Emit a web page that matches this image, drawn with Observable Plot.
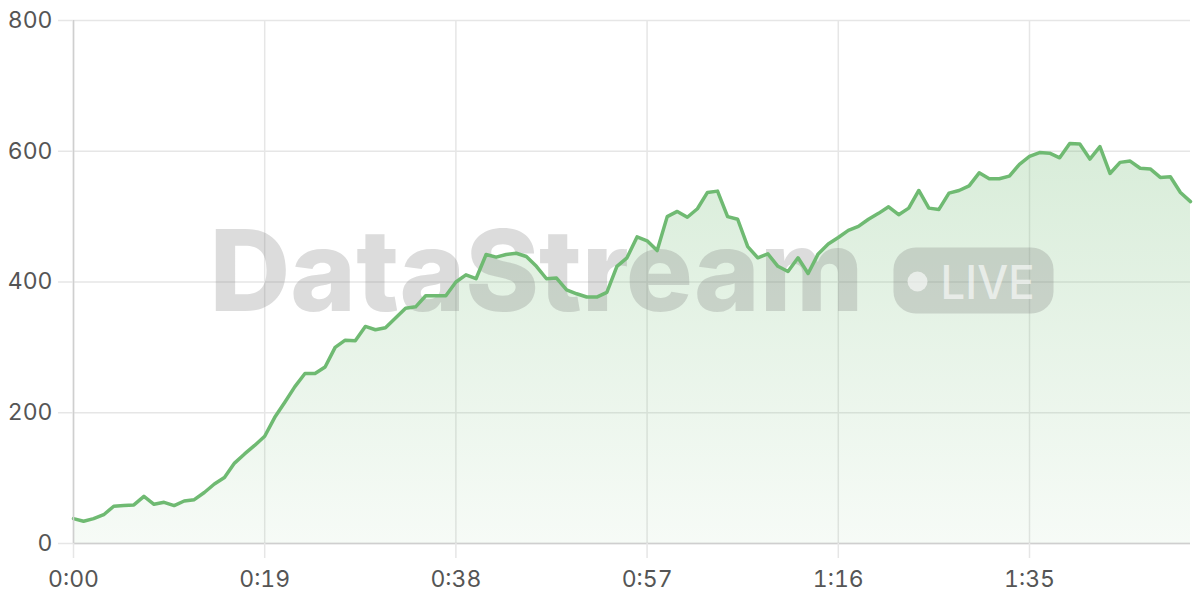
<!DOCTYPE html>
<html>
<head>
<meta charset="utf-8">
<script src="https://cdn.jsdelivr.net/npm/d3@7"></script>
<script src="https://cdn.jsdelivr.net/npm/@observablehq/plot@0.6"></script>
<style>
  html, body { margin: 0; padding: 0; background: #ffffff; }
  #chart { width: 1200px; height: 600px; }
</style>
</head>
<body>
<div id="chart"></div>
<script>
// Elapsed time in seconds
const seconds = [
  0, 1, 2, 3, 4, 5, 6, 7, 8, 9,
  10, 11, 12, 13, 14, 15, 16, 17, 18, 19,
  20, 21, 22, 23, 24, 25, 26, 27, 28, 29,
  30, 31, 32, 33, 34, 35, 36, 37, 38, 39,
  40, 41, 42, 43, 44, 45, 46, 47, 48, 49,
  50, 51, 52, 53, 54, 55, 56, 57, 58, 59,
  60, 61, 62, 63, 64, 65, 66, 67, 68, 69,
  70, 71, 72, 73, 74, 75, 76, 77, 78, 79,
  80, 81, 82, 83, 84, 85, 86, 87, 88, 89,
  90, 91, 92, 93, 94, 95, 96, 97, 98, 99,
  100, 101, 102, 103, 104, 105, 106, 107, 108, 109,
  110, 111
];
// Stream values
const values = [
  38, 34, 38, 44, 57, 58, 59, 72, 60, 63,
  58, 65, 67, 78, 91, 101, 123, 137, 150, 164,
  193, 216, 240, 260, 260, 270, 300, 311, 310, 332,
  327, 330, 345, 360, 362, 379, 379, 379, 400, 411,
  405, 442, 438, 442, 444, 439, 424, 405, 406, 388,
  382, 377, 377, 384, 424, 437, 469, 463, 448, 500,
  508, 499, 512, 537, 539, 500, 496, 454, 437, 443,
  424, 416, 437, 413, 443, 458, 468, 479, 485, 496,
  505, 515, 503, 513, 540, 513, 511, 536, 540, 547,
  567, 558, 558, 562, 580, 592, 598, 597, 590, 612,
  611, 588, 607, 566, 583, 585, 574, 573, 560, 561,
  537, 523
];
const xTicks = [0, 19, 38, 57, 76, 95];
const yTicks = [0, 200, 400, 600, 800];
const watermarkText = "DataStream";
const badgeText = "LIVE";

const data = seconds.map((s, i) => ({ t: s, v: values[i] }));
const fmt = s => `${Math.floor(s / 60)}:${String(s % 60).padStart(2, "0")}`;

const lineColor = "#6fba72";
const font = "Inter, 'Noto Sans', sans-serif";

const defsMark = () => {
  const defs = d3.create("svg:defs");
  const g = defs.append("linearGradient")
    .attr("id", "areaGrad").attr("x1", 0).attr("x2", 0).attr("y1", 0).attr("y2", 1);
  g.append("stop").attr("offset", "0%").attr("stop-color", lineColor).attr("stop-opacity", 0.27);
  g.append("stop").attr("offset", "100%").attr("stop-color", lineColor).attr("stop-opacity", 0.06);
  return defs.node();
};

const watermarkMark = (index, scales, values, dims) => {
  const cx = dims.marginLeft + (dims.width - dims.marginLeft - dims.marginRight) / 2;
  const cy = dims.marginTop + (dims.height - dims.marginTop - dims.marginBottom) / 2;
  const textW = 654, gap = 30, pillW = 160, pillH = 66;
  const total = textW + gap + pillW;
  const left = cx - total / 2;
  const g = d3.create("svg:g").attr("pointer-events", "none").attr("text-anchor", "start");
  g.append("text")
    .attr("x", left).attr("y", cy + 29)
    .attr("text-anchor", "start")
    .attr("font-family", "Inter, 'Liberation Sans', sans-serif")
    .attr("font-weight", 800)
    .attr("font-size", 113)
    .attr("textLength", textW)
    .attr("lengthAdjust", "spacingAndGlyphs")
    .attr("fill", "#787878").attr("fill-opacity", 0.26)
    .text(watermarkText);
  const px = left + textW + gap;
  g.append("rect")
    .attr("x", px).attr("y", cy - 34).attr("width", pillW).attr("height", pillH)
    .attr("rx", 22).attr("fill", "#787878").attr("fill-opacity", 0.26);
  g.append("circle")
    .attr("cx", px + 24).attr("cy", cy).attr("r", 10)
    .attr("fill", "#ffffff").attr("fill-opacity", 0.6);
  g.append("text")
    .attr("x", px + 47).attr("y", cy + 17)
    .attr("text-anchor", "start")
    .attr("font-family", "Inter, 'Liberation Sans', sans-serif")
    .attr("font-weight", 500)
    .attr("font-size", 46)
    .attr("textLength", 94)
    .attr("lengthAdjust", "spacingAndGlyphs")
    .attr("fill", "#ffffff").attr("fill-opacity", 0.6)
    .text(badgeText);
  return g.node();
};

const chart = Plot.plot({
  width: 1200,
  height: 600,
  marginLeft: 73,
  marginRight: 10,
  marginTop: 20,
  marginBottom: 57,
  style: { fontFamily: font, fontSize: "23px", color: "#666", background: "#fff" },
  x: { domain: [0, 111] },
  y: { domain: [0, 800] },
  marks: [
    defsMark,
    Plot.gridX(xTicks, { stroke: "#e6e6e6", strokeOpacity: 1, strokeWidth: 1.5 }),
    Plot.gridY(yTicks, { stroke: "#e6e6e6", strokeOpacity: 1, strokeWidth: 1.5 }),
    Plot.areaY(data, { x: "t", y: "v", fill: "url(#areaGrad)" }),
    watermarkMark,
    Plot.lineY(data, { x: "t", y: "v", stroke: lineColor, strokeWidth: 3.5, strokeLinejoin: "round" }),
    Plot.ruleX([0], { stroke: "#cfcfcf", strokeWidth: 1.5 }),
    Plot.ruleY([0], { stroke: "#cfcfcf", strokeWidth: 1.5 }),
    Plot.axisX(xTicks, { tickFormat: fmt, tickSize: 15, tickPadding: 12, stroke: "#e6e6e6", strokeWidth: 1.5, fill: "#555", label: null }),
    Plot.axisY(yTicks, { tickSize: 15, tickPadding: 6, stroke: "#e6e6e6", strokeWidth: 1.5, fill: "#555", label: null })
  ]
});
document.getElementById("chart").appendChild(chart);
</script>
</body>
</html>
